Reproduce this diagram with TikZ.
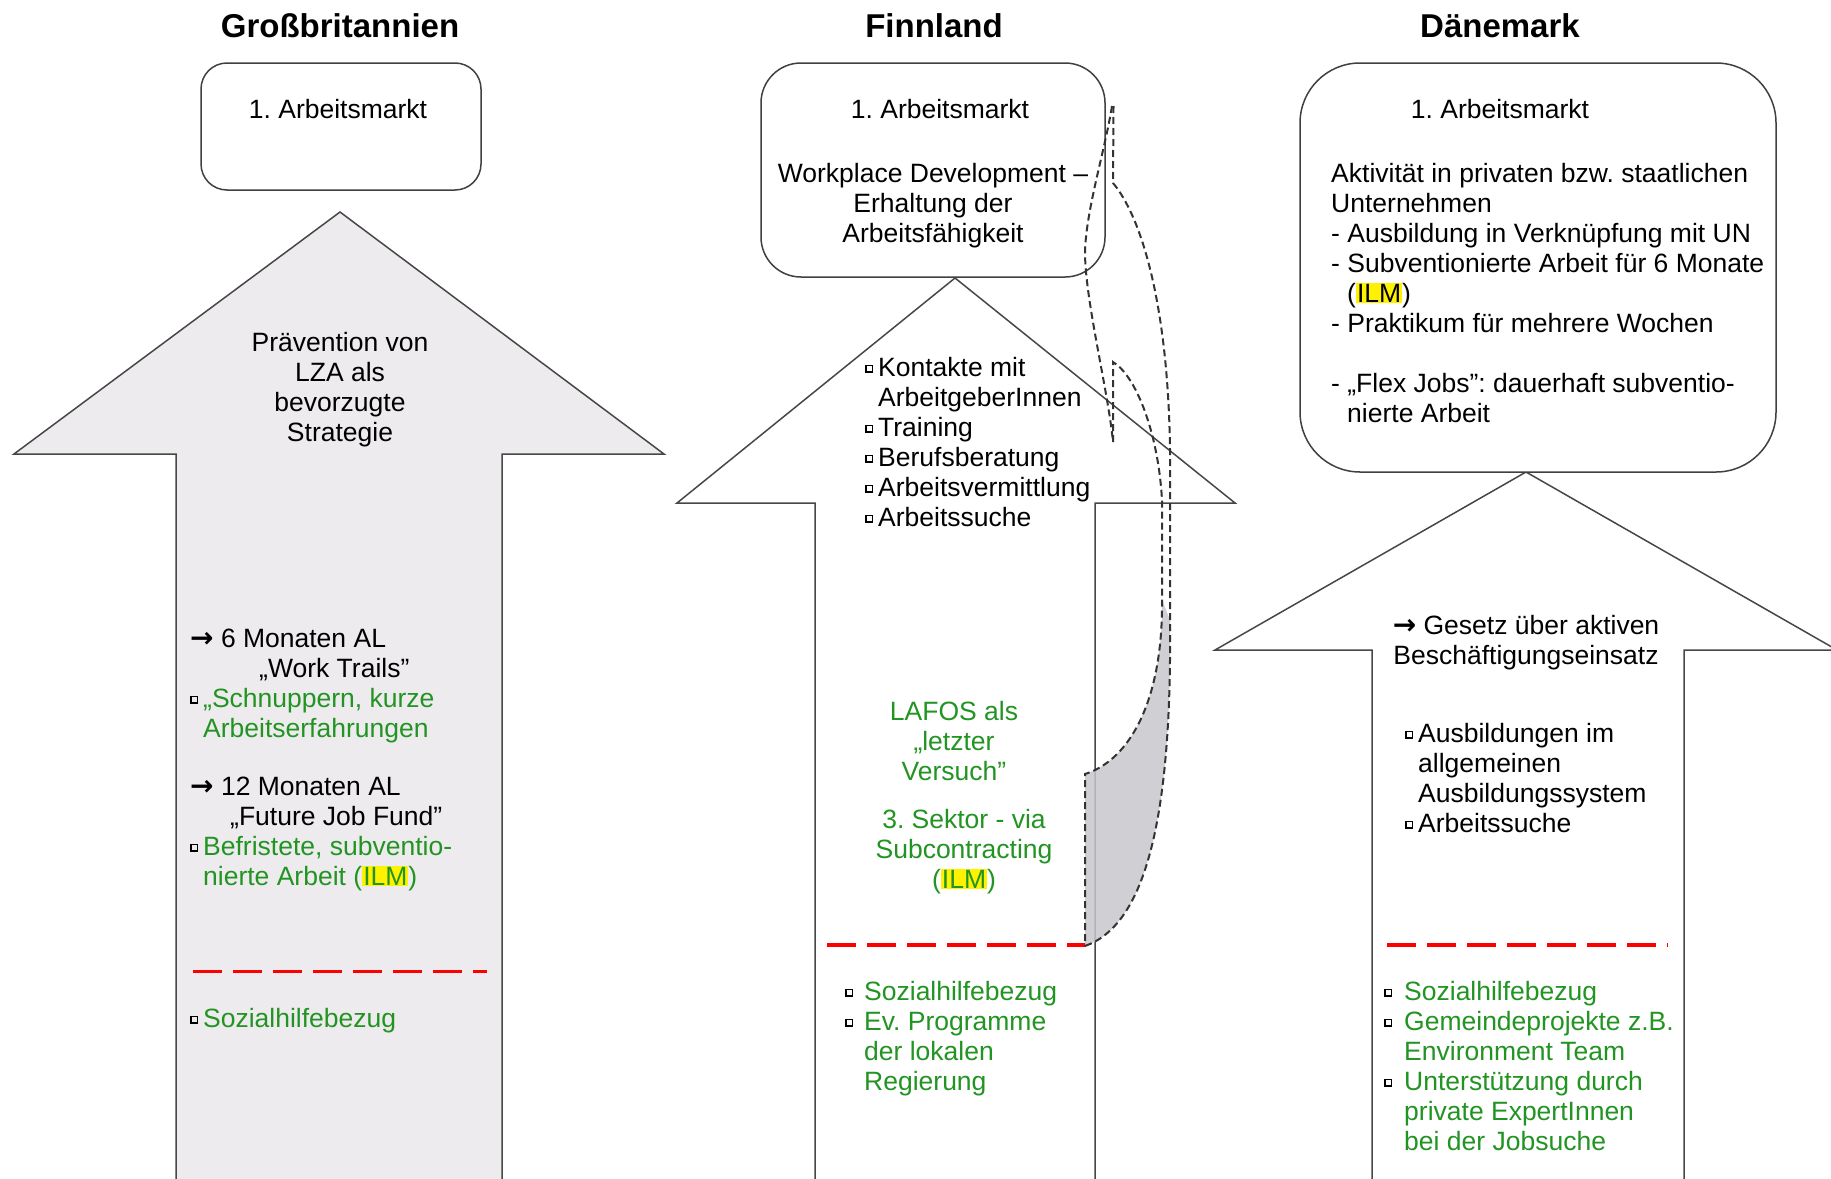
\documentclass[tikz,border=0pt]{standalone}
\usepackage{fontspec}
\setmainfont{Liberation Sans}
\newfontfamily\djv{DejaVu Sans}
\definecolor{grn}{RGB}{34,148,34}
\definecolor{lav}{RGB}{238,235,239}
\definecolor{curvefill}{RGB}{200,199,205}
\newcommand{\sqb}[1][13pt]{\makebox[#1][l]{\raisebox{5pt}{\color{black}\fboxsep=0pt\fboxrule=1.3pt\fbox{\rule{0pt}{5pt}\rule{5pt}{0pt}}}}}
\newcommand{\ilm}{{\fboxsep=1pt\colorbox{yellow}{ILM}}}
\newcommand{\rarr}{{\djv\bfseries\fontsize{28}{30}\selectfont →}}
\newcommand{\fl}{\rule{0pt}{25pt}}
\frenchspacing
\begin{document}
\begin{tikzpicture}[x=1pt,y=-1pt,
  txt/.style={inner sep=0pt, font={\fontsize{26.5}{30}\selectfont\frenchspacing}, align=left, anchor=north west},
  ctxt/.style={txt, align=center, anchor=north},
  gtxt/.style={txt, text=grn},
  gctxt/.style={ctxt, text=grn},
  ttl/.style={inner sep=0pt, font={\fontsize{33}{36}\selectfont\bfseries}, anchor=base},
  boxline/.style={draw=black!75, line width=1.5pt, fill=white},
  arrowline/.style={draw=black!72, line width=1.5pt, line join=miter},
  reddash/.style={draw=red, line width=3.5pt, dash pattern=on 29pt off 11pt},
  curvedash/.style={draw=black!80, line width=2pt, dash pattern=on 7pt off 4pt},
]
\useasboundingbox (0,0) rectangle (1831,1178);
\clip (0,0) rectangle (1831,1178);
\fill[white] (0,0) rectangle (1831,1178);

% titles
\node[ttl] (tgb) at (340,37) {Großbritannien};
\node[ttl] (tfi) at (934,37) {Finnland};
\node[ttl] (tdk) at (1500,37) {Dänemark};

% big arrows
\draw[arrowline, fill=lav] (176,1195) -- (176,454) -- (14,454) -- (340,212) -- (664,454) -- (502,454) -- (502,1195);
\draw[arrowline, fill=white] (815,1195) -- (815,503) -- (677,503) -- (955,278) -- (1235,503) -- (1095,503) -- (1095,1195);
\draw[arrowline, fill=white] (1372,1195) -- (1372,650) -- (1215,650) -- (1526,472) -- (1837,650) -- (1684,650) -- (1684,1195);

% boxes
\draw[boxline, rounded corners=26pt] (201,63) rectangle (481,190);
\draw[boxline, rounded corners=40pt] (761,63) rectangle (1105,277);
\draw[boxline, rounded corners=60pt] (1300,63) rectangle (1776,472);

% Grossbritannien texts
\node[ctxt] (gbbox) at (338,93) {\fl 1. Arbeitsmarkt};
\node[ctxt] (gbprae) at (340,326) {\fl Prävention von\\LZA als\\bevorzugte\\Strategie};
\node[txt] (gbsix) at (190,622) {\fl\rarr\ 6 Monaten AL\\\hspace*{69pt}„Work Trails"\\\textcolor{grn}{\sqb„Schnuppern, kurze}\\\textcolor{grn}{\hspace*{13pt}Arbeitserfahrungen}};
\node[txt] (gbtwelve) at (190,770) {\fl\rarr\ 12 Monaten AL\\\hspace*{40pt}„Future Job Fund"\\\textcolor{grn}{\sqb Befristete, subventio-}\\\textcolor{grn}{\hspace*{13pt}nierte Arbeit (\ilm)}};
\coordinate (gbrA) at (193,971.5);
\coordinate (gbrB) at (487,971.5);
\draw[reddash] (gbrA) -- (gbrB);
\node[gtxt] (gbsoz) at (190,1002) {\fl\sqb Sozialhilfebezug};

% Finnland texts
\node[ctxt] (fibox) at (940,93) {\fl 1. Arbeitsmarkt};
\node[ctxt] (fiwork) at (933,157) {\fl Workplace Development –\\Erhaltung der\\Arbeitsfähigkeit};
\node[txt] (filist) at (865,351) {\fl\sqb Kontakte mit\\\hspace*{13pt}ArbeitgeberInnen\\\sqb Training\\\sqb Berufsberatung\\\sqb Arbeitsvermittlung\\\sqb Arbeitssuche};
\node[gctxt] (filafos) at (954,695) {\fl LAFOS als\\„letzter\\Versuch"};
\node[gctxt] (fisektor) at (964,803) {\fl 3. Sektor - via\\Subcontracting\\(\ilm)};
\coordinate (firA) at (827,945);
\coordinate (firB) at (1086,945);
\draw[reddash] (firA) -- (firB);
\node[gtxt] (fisoz) at (845,975) {\fl\sqb[19pt]Sozialhilfebezug\\\sqb[19pt]Ev. Programme\\\hspace*{19pt}der lokalen\\\hspace*{19pt}Regierung};

% Daenemark texts
\node[ctxt] (dkbox) at (1500,93) {\fl 1. Arbeitsmarkt};
\node[txt] (dkakt) at (1331,157) {\fl Aktivität in privaten bzw. staatlichen\\Unternehmen\\- Ausbildung in Verknüpfung mit UN\\- Subventionierte Arbeit für 6 Monate\\\hspace*{16pt}(\ilm)\\- Praktikum für mehrere Wochen\\\mbox{}\\- „Flex Jobs": dauerhaft subventio-\\\hspace*{16pt}nierte Arbeit};
\node[ctxt] (dkgesetz) at (1526,609) {\fl\rarr\ Gesetz über aktiven\\Beschäftigungseinsatz};
\node[txt] (dklist) at (1405,717) {\fl\sqb Ausbildungen im\\\hspace*{13pt}allgemeinen\\\hspace*{13pt}Ausbildungssystem\\\sqb Arbeitssuche};
\coordinate (dkrA) at (1387,945);
\coordinate (dkrB) at (1668,945);
\draw[reddash] (dkrA) -- (dkrB);
\node[gtxt] (dksoz) at (1384,975) {\fl\sqb[20pt]Sozialhilfebezug\\\sqb[20pt]Gemeindeprojekte z.B.\\\hspace*{20pt}Environment Team\\\sqb[20pt]Unterstützung durch\\\hspace*{20pt}private ExpertInnen\\\hspace*{20pt}bei der Jobsuche};

% curved dashed arrow (Finnland)
\coordinate (ctip) at (1112,106);
\coordinate (cwingL) at (1085,252);
\coordinate (cwingE) at (1113,442);
\coordinate (cin) at (1113,362);
\coordinate (cinR) at (1162,500);
\coordinate (cinR2) at (1162,600);
\coordinate (ctailT) at (1085,774);
\coordinate (ctailB) at (1085,946);
\coordinate (coutT) at (1113,183);
\coordinate (coutR) at (1170,450);
\coordinate (coutR2) at (1170,620);
\fill[curvefill, fill opacity=0.85] (cinR2) .. controls (1163,700) and (1130,760) .. (ctailT) -- (ctailB) .. controls (1145,925) and (1172,820) .. (coutR2) -- cycle;
\draw[curvedash] (ctip) .. controls (1105,150) and (1086,210) .. (cwingL) .. controls (1085,300) and (1108,390) .. (cwingE);
\draw[curvedash] (1113.5,106) -- (coutT) .. controls (1140,215) and (1168,300) .. (coutR) -- (coutR2) .. controls (1172,820) and (1145,925) .. (ctailB);
\draw[curvedash] (cwingE) -- (cin) .. controls (1135,375) and (1158,430) .. (cinR) -- (cinR2) .. controls (1163,700) and (1130,760) .. (ctailT) -- (ctailB);
\end{tikzpicture}
\end{document}
